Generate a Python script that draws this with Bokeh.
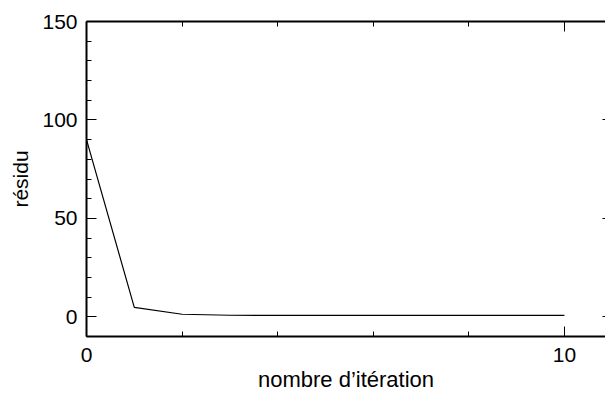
from bokeh.plotting import figure
from bokeh.models import LinearAxis, FixedTicker, Range1d, CustomJSTickFormatter
from bokeh.embed import file_html
from bokeh.resources import INLINE

# data
iterations = [0, 1, 2, 3, 4, 5, 6, 7, 8, 9, 10]
residu = [90, 4.8, 1.3, 0.8, 0.7, 0.7, 0.7, 0.7, 0.7, 0.7, 0.7]
x_major = [0, 10]
x_minor = [2, 4, 6, 8]
y_major = [0, 50, 100, 150]
y_minor = [-10, 10, 20, 30, 40, 60, 70, 80, 90, 110, 120, 130, 140]
x_label = "nombre d\u2019itération"
y_label = "résidu"

FONT = "Liberation Sans"

p = figure(width=605, height=396, output_backend="svg", toolbar_location=None,
           x_range=Range1d(0, 10.86), y_range=Range1d(-10, 150),
           x_axis_location=None, y_axis_location=None,
           min_border_left=86, min_border_top=21, min_border_bottom=60,
           min_border_right=0)
p.outline_line_color = None
p.grid.visible = False
p.background_fill_color = "white"
p.border_fill_color = "white"

p.line(iterations, residu, line_color="black", line_width=1.2)

xt = FixedTicker(ticks=x_major, minor_ticks=x_minor)
yt = FixedTicker(ticks=y_major, minor_ticks=y_minor)
blank = CustomJSTickFormatter(code="return ''")

def style(ax, labels=True):
    ax.axis_line_color = "black"
    ax.axis_line_width = 2
    ax.major_tick_line_color = "black"
    ax.minor_tick_line_color = "black"
    ax.major_tick_line_width = 1
    ax.minor_tick_line_width = 1
    ax.major_tick_in = 10
    ax.major_tick_out = 0
    ax.minor_tick_in = 5
    ax.minor_tick_out = 0
    if labels:
        ax.major_label_text_font = FONT
        ax.major_label_text_font_size = "21px"
        ax.major_label_text_color = "black"
        ax.axis_label_text_font = FONT
        ax.axis_label_text_font_size = "21px"
        ax.axis_label_text_font_style = "normal"
        ax.axis_label_text_color = "black"
    else:
        ax.formatter = blank
        ax.major_label_standoff = 0

bottom = LinearAxis(ticker=xt, axis_label=x_label)
style(bottom)
bottom.major_label_standoff = 11
bottom.axis_label_standoff = 2
bottom.axis_label_text_font_size = "22px"
p.add_layout(bottom, "below")

left = LinearAxis(ticker=yt, axis_label=y_label)
style(left)
left.major_label_standoff = 9
left.axis_label_standoff = 7
p.add_layout(left, "left")

top = LinearAxis(ticker=xt)
style(top, labels=False)
p.add_layout(top, "above")

right = LinearAxis(ticker=yt)
style(right, labels=False)
right.axis_line_color = None
right.major_tick_in = 3
right.minor_tick_in = 0
p.add_layout(right, "right")

open("out.html", "w").write(file_html(p, INLINE))
